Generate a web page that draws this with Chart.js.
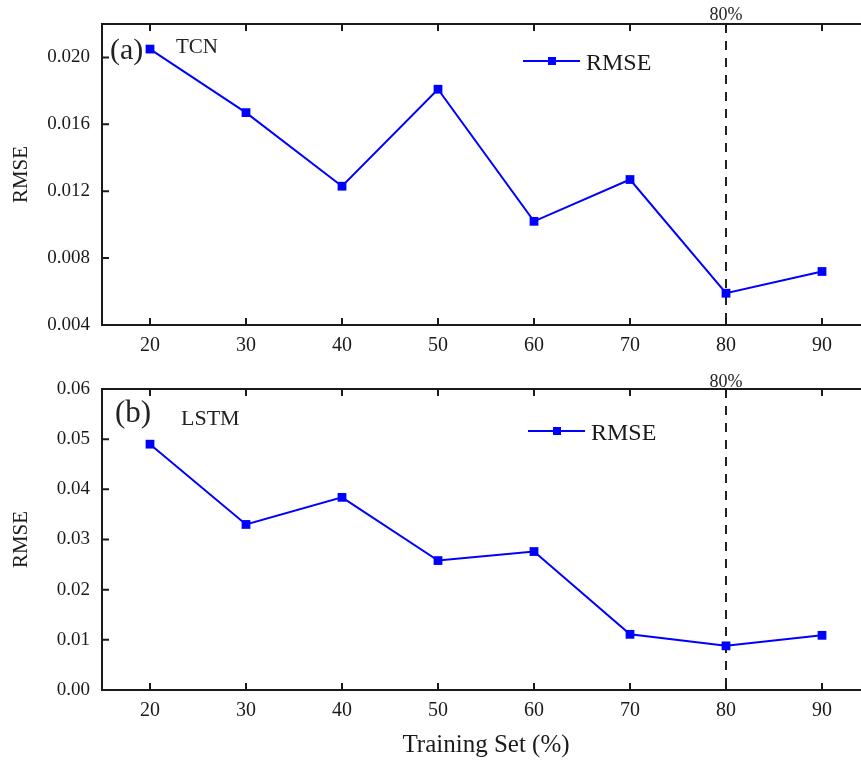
<!DOCTYPE html>
<html>
<head>
<meta charset="utf-8">
<script src="https://cdn.jsdelivr.net/npm/chart.js@4.4.1/dist/chart.umd.min.js"></script>
<style>
  html, body { margin: 0; padding: 0; background: #ffffff; overflow: hidden; width: 861px; height: 762px; }
  .wrap { position: absolute; left: 0; }
  canvas { display: block; }
</style>
</head>
<body>
<div class="wrap" style="top:0px;"><canvas id="c1" width="880" height="365"></canvas></div>
<div class="wrap" style="top:365px;"><canvas id="c2" width="880" height="397"></canvas></div>
<script>
// ---- data ----
const trainingSet = [20, 30, 40, 50, 60, 70, 80, 90];
const tcnRmse  = [0.0205, 0.0167, 0.0123, 0.0181, 0.0102, 0.0127, 0.0059, 0.0072];
const lstmRmse = [0.0490, 0.0330, 0.0384, 0.0258, 0.0276, 0.0111, 0.0088, 0.0109];
const xTickValues = [20, 30, 40, 50, 60, 70, 80, 90];
const tcnYTicks  = [0.004, 0.008, 0.012, 0.016, 0.020];
const lstmYTicks = [0.00, 0.01, 0.02, 0.03, 0.04, 0.05, 0.06];
const markedSplit = 80;
const markedLabel = '80%';
const seriesName = 'RMSE';
const xTitle = 'Training Set (%)';
const yTitle = 'RMSE';

const SERIF = '"Liberation Serif", "Times New Roman", serif';
const AXIS = '#1a1a1a';
const BLUE = '#0000ff';

function framePlugin(cfg) {
  return {
    id: 'frame_' + cfg.tag,
    beforeDatasetsDraw(chart) {
      const { ctx, chartArea: a, scales } = chart;
      const px = scales.x.getPixelForValue(markedSplit);
      ctx.save();
      ctx.strokeStyle = '#222';
      ctx.lineWidth = 2;
      ctx.setLineDash([9, 8]);
      ctx.beginPath();
      ctx.moveTo(px, a.top);
      ctx.lineTo(px, a.bottom);
      ctx.stroke();
      ctx.restore();
    },
    afterDraw(chart) {
      const { ctx, chartArea: a, scales } = chart;
      ctx.save();
      ctx.strokeStyle = AXIS;
      ctx.lineWidth = 2;
      ctx.setLineDash([]);
      ctx.strokeRect(a.left, a.top, a.right - a.left, a.bottom - a.top);
      const tl = 7;
      ctx.beginPath();
      scales.x.ticks.forEach(t => {
        const x = scales.x.getPixelForValue(t.value);
        ctx.moveTo(x, a.bottom); ctx.lineTo(x, a.bottom - tl);
        ctx.moveTo(x, a.top); ctx.lineTo(x, a.top + tl);
      });
      scales.y.ticks.forEach(t => {
        const y = scales.y.getPixelForValue(t.value);
        ctx.moveTo(a.left, y); ctx.lineTo(a.left + tl, y);
        ctx.moveTo(a.right, y); ctx.lineTo(a.right - tl, y);
      });
      ctx.stroke();

      // marker label above frame
      const px = scales.x.getPixelForValue(markedSplit);
      ctx.fillStyle = '#222';
      ctx.textAlign = 'center';
      ctx.textBaseline = 'alphabetic';
      ctx.font = '18px ' + SERIF;
      ctx.fillText(markedLabel, px, cfg.markY);

      // panel letter and model name
      ctx.textAlign = 'left';
      ctx.font = cfg.letterSize + 'px ' + SERIF;
      ctx.fillText(cfg.letter, cfg.letterX, cfg.letterY);
      ctx.font = cfg.nameSize + 'px ' + SERIF;
      ctx.fillText(cfg.name, cfg.nameX, cfg.nameY);

      // legend
      ctx.strokeStyle = BLUE;
      ctx.lineWidth = 2;
      ctx.beginPath();
      ctx.moveTo(cfg.legX, cfg.legY);
      ctx.lineTo(cfg.legX + 57, cfg.legY);
      ctx.stroke();
      ctx.fillStyle = BLUE;
      ctx.fillRect(cfg.legX + 29 - 4, cfg.legY - 4, 8, 8);
      ctx.fillStyle = '#1a1a1a';
      ctx.font = '24px ' + SERIF;
      ctx.fillText(seriesName, cfg.legX + 63, cfg.legTextY);
      ctx.restore();
    }
  };
}

function makeChart(id, values, yTicks, yMin, yMax, decimals, xAxisHeight, showXTitle, cfg) {
  const ctx = document.getElementById(id).getContext('2d');
  return new Chart(ctx, {
    type: 'line',
    data: {
      datasets: [{
        label: seriesName,
        data: trainingSet.map((x, i) => ({ x: x, y: values[i] })),
        borderColor: BLUE,
        backgroundColor: BLUE,
        borderWidth: 2,
        pointStyle: 'rect',
        pointRadius: 6.2,
        pointBorderWidth: 0,
        pointBackgroundColor: BLUE,
        tension: 0,
        fill: false
      }]
    },
    options: {
      responsive: false,
      animation: false,
      devicePixelRatio: 1,
      layout: { padding: { left: 0, top: 24, right: 10, bottom: 0 } },
      plugins: { legend: { display: false }, tooltip: { enabled: false } },
      scales: {
        x: {
          type: 'linear',
          min: 15, max: 95,
          grid: { display: false, drawTicks: false },
          border: { display: false },
          afterBuildTicks: s => { s.ticks = xTickValues.map(v => ({ value: v })); },
          afterFit: s => { s.height = xAxisHeight; },
          ticks: {
            color: '#1a1a1a',
            font: { family: SERIF, size: 20 },
            padding: 9,
            maxRotation: 0,
            autoSkip: false,
            callback: v => String(v)
          },
          title: {
            display: showXTitle,
            text: xTitle,
            color: '#1a1a1a',
            font: { family: SERIF, size: 25 },
            padding: 2
          }
        },
        y: {
          type: 'linear',
          min: yMin, max: yMax,
          grid: { display: false, drawTicks: false },
          border: { display: false },
          afterBuildTicks: s => { s.ticks = yTicks.map(v => ({ value: v })); },
          afterFit: s => { s.width = 102; },
          ticks: {
            color: '#1a1a1a',
            font: { family: SERIF, size: 19 },
            padding: 12,
            autoSkip: false,
            callback: v => Number(v).toFixed(decimals)
          },
          title: {
            display: true,
            text: yTitle,
            color: '#1a1a1a',
            font: { family: SERIF, size: 21 },
            padding: 9
          }
        }
      }
    },
    plugins: [framePlugin(cfg)]
  });
}

makeChart('c1', tcnRmse, tcnYTicks, 0.004, 0.022, 3, 40, false, {
  tag: 'a', markY: 20,
  letter: '(a)', letterX: 110, letterY: 59, letterSize: 30,
  name: 'TCN', nameX: 176, nameY: 53, nameSize: 21,
  legX: 523, legY: 61, legTextY: 70
});
makeChart('c2', lstmRmse, lstmYTicks, 0, 0.06, 2, 72, true, {
  tag: 'b', markY: 22,
  letter: '(b)', letterX: 115, letterY: 57, letterSize: 31,
  name: 'LSTM', nameX: 181, nameY: 60, nameSize: 22,
  legX: 528, legY: 66, legTextY: 75
});
</script>
</body>
</html>
